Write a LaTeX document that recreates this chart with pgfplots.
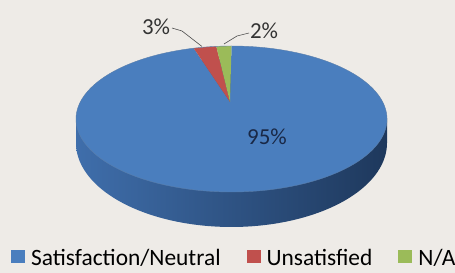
\documentclass[border=0pt]{standalone}
\usepackage{pgfplots}
\usepackage{pgfplotstable}
\pgfplotsset{compat=1.18}
\usepackage{fontspec}
\setmainfont{Carlito}
\definecolor{bg}{HTML}{EEEBE7}
\definecolor{cblue}{HTML}{4A7EBE}
\definecolor{cred}{HTML}{C0504D}
\definecolor{cgreen}{HTML}{9BBB59}
\definecolor{sideL}{HTML}{3F6EAB}
\definecolor{sideR}{HTML}{1E385C}
\pgfplotstableread{
name v
blue 95
red 3
green 2
}\pietbl
\pgfplotstablegetelem{0}{v}\of\pietbl \let\va\pgfplotsretval
\pgfplotstablegetelem{1}{v}\of\pietbl \let\vb\pgfplotsretval
\pgfplotstablegetelem{2}{v}\of\pietbl \let\vc\pgfplotsretval
\pgfmathsetmacro\tot{\va+\vb+\vc}
% angles counted counter-clockwise from 12 o'clock (slices run clockwise: blue, red, green)
\pgfmathsetmacro\tB{(\vb+\vc)/\tot*360}
\pgfmathsetmacro\tC{\vc/\tot*360}
% perspective foreshortening of the far half of the top face
\def\kk{0.78}
\pgfmathsetmacro\pB{90+2*atan(\kk*tan(\tB/2))}
\pgfmathsetmacro\pC{90+2*atan(\kk*tan(\tC/2))}
\def\cx{231.5}\def\cy{154}\def\rx{155.5}\def\ry{73}
\def\bcy{130}\def\bry{84}
\def\apx{230}\def\apy{171}
\begin{document}
\begin{tikzpicture}
\begin{axis}[
  width=455bp, height=273bp, scale only axis,
  xmin=0, xmax=455, ymin=0, ymax=273,
  axis lines=none, clip=false,
  legend columns=3,
  legend style={at={(axis cs:11,3.5)}, anchor=south west, draw=none, fill=none,
    font=\fontsize{23.5}{25}\selectfont, inner sep=0pt,
    /tikz/every even column/.append style={column sep=24bp}},
  legend image code/.code={\path[#1,draw=none] (0bp,-5bp) rectangle (14bp,8bp); \path (18bp,0bp);},
]
% background
\addplot[fill=bg, draw=none, forget plot] coordinates {(0,0) (455,0) (455,273) (0,273)} -- cycle;
% side of pie
\addplot[forget plot, draw=none, left color=sideL, right color=sideR, domain=0:360, samples=180]
  ({\cx+\rx*cos(x)}, {\bcy+\bry*sin(x)}) -- cycle;
\addplot[forget plot, draw=none, left color=sideL, right color=sideR]
  coordinates {(\cx-\rx,\bcy) (\cx+\rx,\bcy) (\cx+\rx,\cy) (\cx-\rx,\cy)} -- cycle;
% slices
\addplot[fill=cblue, draw=none, domain=\pB:450, samples=220]
  ({\cx+\rx*cos(x)}, {\cy+\ry*sin(x)}) -- (axis cs:\apx,\apy) -- cycle;
\addlegendentry{Satisfaction/Neutral}
\addplot[fill=cred, draw=none, domain=\pC:\pB, samples=20]
  ({\cx+\rx*cos(x)}, {\cy+\ry*sin(x)}) -- (axis cs:\apx,\apy) -- cycle;
\addlegendentry{Unsatisfied}
\addplot[fill=cgreen, draw=none, domain=90:\pC, samples=20]
  ({\cx+\rx*cos(x)}, {\cy+\ry*sin(x)}) -- (axis cs:\apx,\apy) -- cycle;
\addlegendentry{N/A}
% rim outline
\addplot[forget plot, draw=cblue!70!gray, line width=0.4pt, domain=0:360, samples=180]
  ({\cx+\rx*cos(x)}, {\cy+\ry*sin(x)});
% leader lines
\draw[gray!60!black, line width=0.6pt] (axis cs:172,245) -- (axis cs:182,242) -- (axis cs:202,226.5);
\draw[gray!60!black, line width=0.6pt] (axis cs:249,240) -- (axis cs:237,237) -- (axis cs:224,229);
% labels
\node[font=\fontsize{23}{25}\selectfont, text=black!80] at (axis cs:156,246) {3\%};
\node[font=\fontsize{23}{25}\selectfont, text=black!80] at (axis cs:264,242) {2\%};
\node[font=\fontsize{23}{25}\selectfont, text={rgb,255:red,25;green,40;blue,70}] at (axis cs:267,136) {95\%};
\end{axis}
\pgfresetboundingbox
\path (0,0) rectangle (455bp,273bp);
\end{tikzpicture}
\end{document}
